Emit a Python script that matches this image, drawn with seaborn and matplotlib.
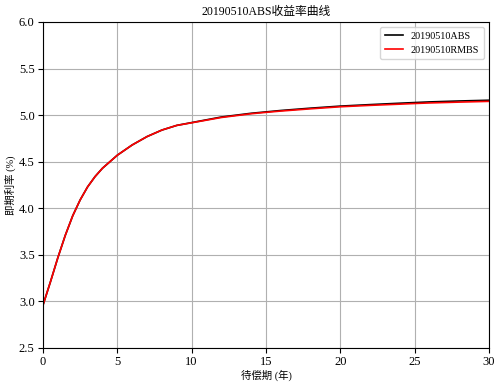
import matplotlib
matplotlib.use("Agg")
import matplotlib.pyplot as plt
import seaborn as sns
import pandas as pd

# Data
years = [0, 0.5, 1, 1.5, 2, 2.5, 3, 3.5, 4, 4.5, 5, 6, 7, 8, 9, 10, 12, 14, 15, 16,
         18, 20, 22, 24, 25, 26, 28, 30]
abs_rates = [2.96, 3.21, 3.47, 3.71, 3.92, 4.09, 4.23, 4.34, 4.43, 4.50, 4.57, 4.68,
             4.77, 4.84, 4.89, 4.92, 4.98, 5.02, 5.035, 5.05, 5.075, 5.097, 5.113,
             5.128, 5.135, 5.142, 5.152, 5.160]
rmbs_rates = [2.96, 3.21, 3.47, 3.71, 3.92, 4.09, 4.23, 4.34, 4.43, 4.50, 4.57, 4.68,
              4.77, 4.84, 4.89, 4.918, 4.975, 5.015, 5.03, 5.044, 5.068, 5.09, 5.105,
              5.118, 5.125, 5.131, 5.140, 5.148]
series_names = ["20190510ABS", "20190510RMBS"]
title = "20190510ABS收益率曲线"
xlabel = "待偿期 (年)"
ylabel = "即期利率 (%)"

df = pd.DataFrame({
    "year": years * 2,
    "rate": abs_rates + rmbs_rates,
    "series": [series_names[0]] * len(years) + [series_names[1]] * len(years),
})

plt.rcParams['font.family'] = ['Liberation Serif', 'Noto Sans CJK SC', 'DejaVu Sans']

fig = plt.figure(figsize=(5.01, 3.86), dpi=100)
ax = fig.add_axes([43/501, 1-348/386, (489-43)/501, (348-22)/386])

sns.lineplot(data=df, x="year", y="rate", hue="series",
             palette=["black", "red"], linewidth=1.2, ax=ax)

ax.set_xlim(0, 30)
ax.set_ylim(2.5, 6.0)
ax.set_xticks([0, 5, 10, 15, 20, 25, 30])
ax.set_yticks([2.5, 3.0, 3.5, 4.0, 4.5, 5.0, 5.5, 6.0])
ax.yaxis.set_major_formatter(matplotlib.ticker.FormatStrFormatter('%.1f'))
ax.tick_params(labelsize=9, length=3.5, pad=2.5)
ax.grid(True, color='#b0b0b0', linewidth=0.8)
ax.set_axisbelow(True)
ax.set_title(title, fontsize=8.5, pad=5)
ax.set_xlabel(xlabel, fontsize=7.5, labelpad=1)
ax.set_ylabel(ylabel, fontsize=7.5, labelpad=2)
leg = ax.legend(loc='upper right', fontsize=7.3, title=None, labelspacing=0.5,
                handlelength=1.8, borderpad=0.45)
leg.get_frame().set_edgecolor('#cccccc')

fig.savefig("out.png", dpi=100)
